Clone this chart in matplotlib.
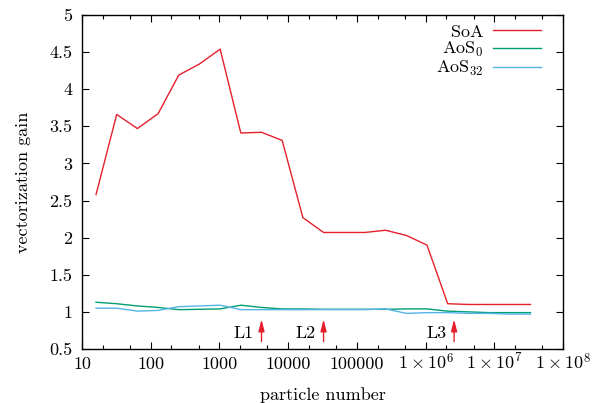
import matplotlib
matplotlib.use('Agg')
import matplotlib.pyplot as plt
from matplotlib.ticker import FixedLocator, FixedFormatter, LogLocator, NullFormatter, MultipleLocator

plt.rcParams['font.family'] = 'serif'
plt.rcParams['font.serif'] = ['cmr10']
plt.rcParams['mathtext.fontset'] = 'cm'
plt.rcParams['axes.unicode_minus'] = False
plt.rcParams['font.size'] = 13

# particle counts (powers of two, 16 .. 2^25)
particles = [16, 32, 64, 128, 256, 512, 1024, 2048, 4096, 8192, 16384, 32768,
             65536, 131072, 262144, 524288, 1048576, 2097152, 4194304,
             8388608, 16777216, 33554432]

soa = [2.58, 3.66, 3.47, 3.67, 4.19, 4.34, 4.54, 3.41, 3.42, 3.31, 2.27, 2.07,
       2.07, 2.07, 2.10, 2.03, 1.90, 1.11, 1.10, 1.10, 1.10, 1.10]
aos0 = [1.13, 1.11, 1.08, 1.06, 1.03, 1.035, 1.04, 1.09, 1.06, 1.04, 1.04, 1.035,
        1.035, 1.035, 1.035, 1.04, 1.04, 1.01, 1.00, 0.99, 0.99, 0.99]
aos32 = [1.05, 1.05, 1.01, 1.02, 1.07, 1.08, 1.09, 1.03, 1.03, 1.03, 1.03, 1.03,
         1.03, 1.03, 1.04, 0.98, 0.99, 0.99, 0.98, 0.98, 0.97, 0.97]

# cache level markers
cache_labels = ['L1', 'L2', 'L3']
cache_pos = [4096, 32768, 2.6e6]

xticks = [10, 100, 1000, 1e4, 1e5, 1e6, 1e7, 1e8]
xticklabels = ['10', '100', '1000', '10000', '100000',
               r'$1\times10^{6}$', r'$1\times10^{7}$', r'$1\times10^{8}$']

red = '#e5202c'
green = '#009e73'
blue = '#56b4e9'

fig = plt.figure(figsize=(5.98, 4.03), dpi=100)
ax = fig.add_axes([0.1371, 0.134, 0.8044, 0.8288])

ax.plot(particles, soa, color=red, lw=1.0, label='SoA')
ax.plot(particles, aos0, color=green, lw=1.0, label=r'AoS$_0$')
ax.plot(particles, aos32, color=blue, lw=1.0, label=r'AoS$_{32}$')

for lab, xp in zip(cache_labels, cache_pos):
    ax.annotate('', xy=(xp, 0.9), xytext=(xp, 0.6),
                arrowprops=dict(arrowstyle='-|>,head_length=0.7,head_width=0.18',
                                color=red, lw=1.0, shrinkA=0, shrinkB=0,
                                mutation_scale=10))
    ax.text(xp / 1.3, 0.71, lab, ha='right', va='center')

ax.set_xscale('log')
ax.set_xlim(10, 1e8)
ax.set_ylim(0.5, 5)
ax.xaxis.set_major_locator(FixedLocator(xticks))
ax.xaxis.set_major_formatter(FixedFormatter(xticklabels))
ax.xaxis.set_minor_locator(LogLocator(base=10, subs=(2.0, 5.0)))
ax.xaxis.set_minor_formatter(NullFormatter())
ax.yaxis.set_major_locator(MultipleLocator(0.5))
ax.yaxis.set_major_formatter(plt.FuncFormatter(lambda v, p: f'{v:g}'))

ax.tick_params(which='both', direction='in', top=True, right=True)
ax.tick_params(which='major', length=5, width=0.8)
ax.tick_params(which='minor', length=3, width=0.8)
ax.tick_params(axis='y', pad=7)
ax.tick_params(axis='x', pad=14.5)
for lbl in ax.get_xticklabels():
    lbl.set_va('baseline')
for s in ax.spines.values():
    s.set_linewidth(1.0)

ax.set_xlabel('particle number', labelpad=11)
ax.set_ylabel('vectorization gain', labelpad=13)

ax.legend(loc='upper right', frameon=False, markerfirst=False,
          handlelength=2.66, handletextpad=0.55, labelspacing=0.02,
          borderaxespad=0.0, bbox_to_anchor=(0.97, 0.995))

fig.savefig('out.png', dpi=100)
